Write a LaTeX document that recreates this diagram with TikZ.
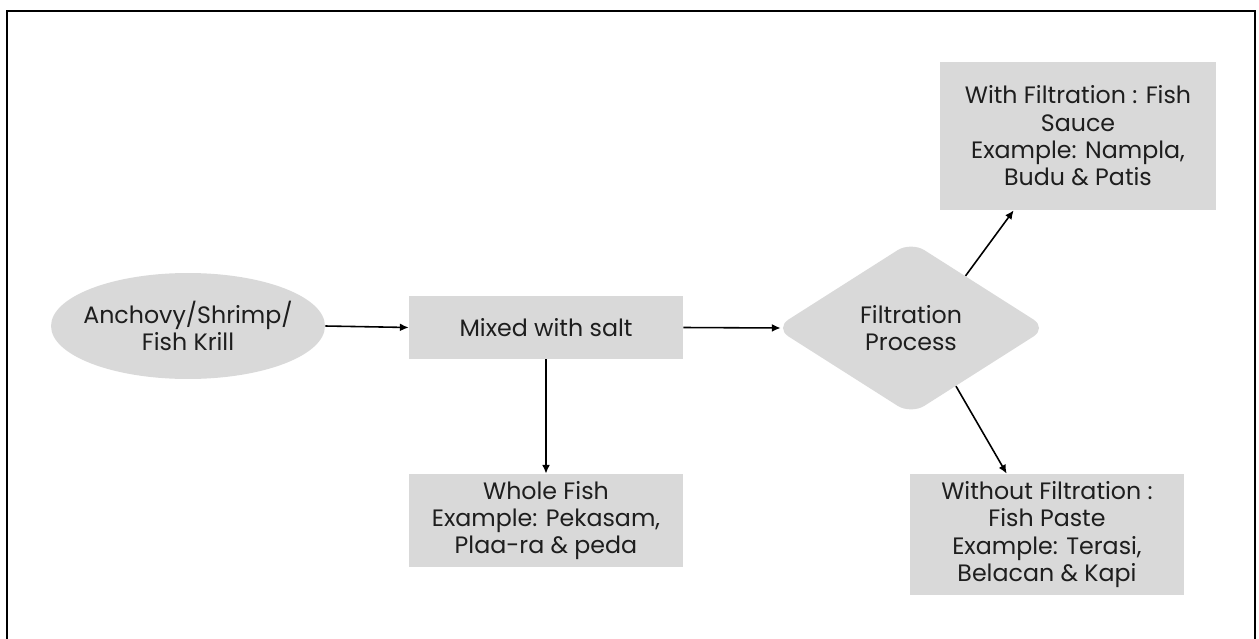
\documentclass[tikz,border=0pt]{standalone}
\usepackage{fontspec}
\setmainfont{Poppins}
\usetikzlibrary{shapes.geometric,arrows.meta,calc}
\definecolor{boxgray}{HTML}{D9D9D9}
\definecolor{inkc}{HTML}{1E1E1E}
\tikzset{
  txtfont/.style={font=\fontsize{13.5}{15.6}\selectfont},
  boxnode/.style={rectangle, fill=boxgray, inner sep=0pt, align=center, text=inkc, txtfont},
  ellnode/.style={ellipse, fill=boxgray, inner xsep=-14pt, inner ysep=0pt, align=center, text=inkc, txtfont},
  dianode/.style={diamond, fill=boxgray, inner sep=0pt, align=center, text=inkc,
    rounded corners=9pt, txtfont},
  arr/.style={draw=black, line width=0.9pt, -{Latex[length=5pt,width=4.5pt]}},
  frame/.style={draw=black, line width=1.3pt}
}
\begin{document}
\begin{tikzpicture}[x=0.02cm, y=-0.02cm]
\useasboundingbox (0,0) rectangle (1259,639);
\draw[frame] (7,640) -- (7,11) -- (1255,11) -- (1255,640);

\node[ellnode, minimum width=5.48cm, minimum height=2.12cm] (src) at (188,326) {Anchovy/Shrimp/\\Fish Krill};
\node[boxnode, minimum width=5.48cm, minimum height=1.26cm] (mix) at (546,327.5) {Mixed with salt};
\node[dianode, minimum width=5.44cm, minimum height=3.46cm] (dia) at (911,328) {Filtration\\Process};
\node[boxnode, minimum width=5.48cm, minimum height=1.86cm] (whole) at (546,520.5) {Whole Fish\\Example: Pekasam,\\Plaa-ra \& peda};
\node[boxnode, minimum width=5.52cm, minimum height=2.96cm] (sauce) at (1078,136) {With Filtration : Fish\\Sauce\\Example: Nampla,\\Budu \& Patis};
\node[boxnode, minimum width=5.48cm, minimum height=2.42cm] (paste) at (1047,534.5) {Without Filtration :\\Fish Paste\\Example: Terasi,\\Belacan \& Kapi};

\coordinate (dl) at ($(dia.west)+(6,0)$);
\coordinate (d1) at ($(dia.north)!0.40!(dia.east)$);
\coordinate (d2) at ($(dia.south)!0.33!(dia.east)$);
\coordinate (s1) at ($(sauce.south west)+(74,0)$);
\coordinate (p1) at ($(paste.north west)+(97,0)$);

\draw[arr] (src.east) -- (mix.west);
\draw[arr] (mix.east) -- (dl);
\draw[arr] (mix.south) -- (whole.north);
\draw[arr] (d1) -- (s1);
\draw[arr] (d2) -- (p1);
\end{tikzpicture}
\end{document}
